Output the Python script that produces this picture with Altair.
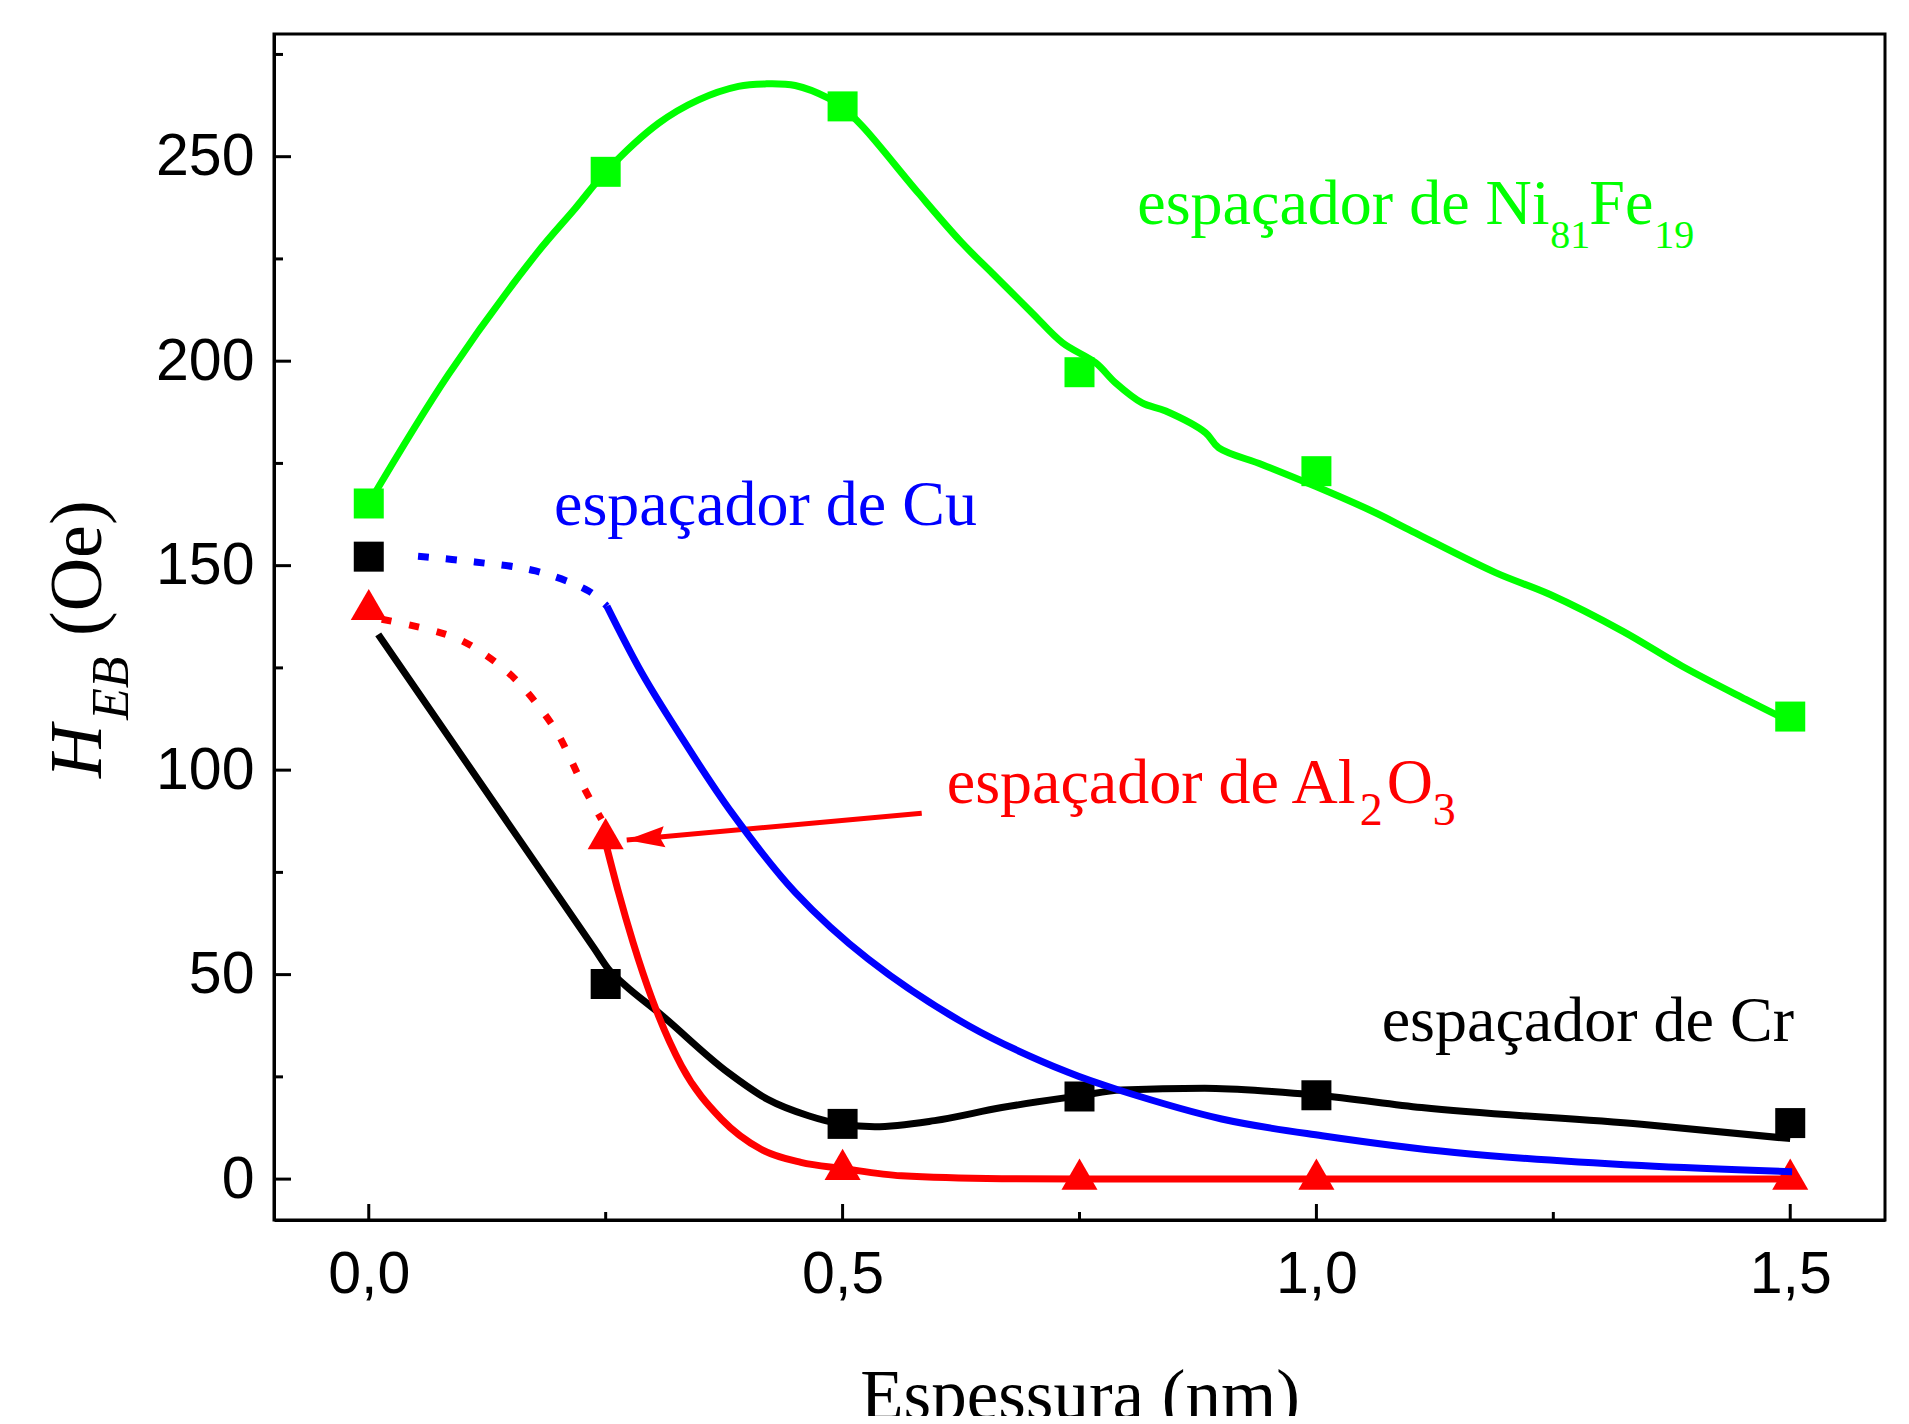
import altair as alt
import pandas as pd

# ---------------- data ----------------
thickness = [0.0, 0.25, 0.5, 0.75, 1.0, 1.5]
heb_nife = [165.2, 246.3, 262.3, 197.3, 173.1, 113.1]
heb_cr = [152.2, 47.7, 13.5, 20.2, 20.5, 13.7]
heb_al2o3 = [140.5, 84.5, 3.6, 1.2, 1.2, 1.2]

# guide curves
nife_curve_x = [0.0, 0.084, 0.176, 0.218, 0.25, 0.306, 0.348, 0.39, 0.418, 0.45, 0.485, 0.5, 0.521,
                0.58, 0.626, 0.658, 0.70, 0.732, 0.767, 0.788, 0.816, 0.841, 0.883, 0.897, 0.943,
                0.999, 1.059, 1.101, 1.189, 1.246, 1.323, 1.386, 1.453, 1.49]
nife_curve_y = [165.2, 196.7, 226.0, 237.4, 246.3, 258.2, 263.9, 267.2, 267.8, 267.4, 264.3, 262.0, 257.4,
                241.1, 228.9, 221.5, 211.8, 204.5, 199.6, 194.7, 189.8, 187.8, 182.5, 178.8, 174.7,
                169.4, 163.3, 158.4, 148.3, 143.0, 134.0, 125.4, 117.3, 113.0]

cu_dot_x = [0.052, 0.112, 0.176, 0.232, 0.2513]
cu_dot_y = [152.3, 150.9, 148.7, 143.8, 140.1]
cu_solid_x = [0.2513, 0.288, 0.327, 0.383, 0.45, 0.527, 0.633, 0.738, 0.794, 0.900, 1.006,
              1.146, 1.343, 1.502]
cu_solid_y = [140.1, 123.8, 109.1, 89.6, 70.1, 53.8, 37.5, 26.1, 21.6, 14.7, 10.6,
              6.5, 3.3, 1.8]

al_dot_x = [0.0137, 0.063, 0.095, 0.125, 0.153, 0.179, 0.199, 0.214, 0.228, 0.2455]
al_dot_y = [136.9, 134.4, 132.0, 127.9, 122.6, 115.7, 109.1, 102.2, 95.3, 88.0]
al_solid_x = [0.2513, 0.2636, 0.279, 0.299, 0.330, 0.372, 0.414, 0.456, 0.5, 0.562, 0.668, 0.75, 1.0, 1.5]
al_solid_y = [81.0, 70.1, 57.8, 44.0, 27.7, 14.7, 7.3, 4.1, 2.6, 0.8, 0.1, 0.0, 0.0, 0.0]

cr_curve_x = [0.01, 0.1827, 0.238, 0.253, 0.27, 0.306, 0.379, 0.421, 0.464, 0.5, 0.534, 0.597, 0.668, 0.751,
              0.794, 0.882, 0.953, 1.001, 1.111, 1.343, 1.5]
cr_curve_y = [133.2, 75.0, 56.4, 51.3, 47.5, 40.7, 26.1, 19.5, 15.5, 13.4, 12.8, 14.3, 17.5, 20.4,
              21.8, 22.2, 21.4, 20.5, 17.5, 13.4, 9.9]

x_ticks_major = [0.0, 0.5, 1.0, 1.5]
x_ticks_minor = [0.25, 0.75, 1.25]
y_ticks_major = [0, 50, 100, 150, 200, 250]
y_ticks_minor = [25, 75, 125, 175, 225, 275]

# annotation arrow (data coordinates): tail, tip
arrow_x = [0.5835, 0.2722]
arrow_y = [89.45, 82.9]

GREEN = "#00FF00"
BLUE = "#0000FF"
RED = "#FF0000"
BLACK = "#000000"

W, H = 1611, 1186
X_SCALE = alt.Scale(domain=[-0.1, 1.6], nice=False, zero=False)
Y_SCALE = alt.Scale(domain=[-10, 280], nice=False, zero=False)

x_axis = alt.Axis(
    values=x_ticks_major,
    labelExpr="replace(format(datum.value, '.1f'), '.', ',')",
    ticks=False, tickSize=0, grid=False,
    domainColor=BLACK, domainWidth=3,
    labelFont="Liberation Sans", labelFontSize=59, labelColor=BLACK, labelPadding=25,
    title="Espessura (nm)", titleFont="Liberation Serif", titleFontSize=71,
    titleFontWeight="normal", titleColor=BLACK, titleBaseline="alphabetic", titleY=198,
)
y_axis = alt.Axis(
    values=y_ticks_major, format="d",
    ticks=False, tickSize=0, grid=False,
    domainColor=BLACK, domainWidth=3,
    labelFont="Liberation Sans", labelFontSize=59, labelColor=BLACK, labelPadding=20,
    title=None,
)


def ex(field="x"):
    return alt.X(f"{field}:Q", scale=X_SCALE, axis=x_axis)


def ey(field="y"):
    return alt.Y(f"{field}:Q", scale=Y_SCALE, axis=y_axis)


def df(xs, ys):
    return pd.DataFrame({"x": xs, "y": ys})


def curve(xs, ys, color, dash=None, width=7, interp="catmull-rom"):
    kw = dict(color=color, strokeWidth=width, interpolate=interp, strokeCap="butt")
    if dash:
        kw["strokeDash"] = dash
    return alt.Chart(df(xs, ys)).mark_line(**kw).encode(x=ex(), y=ey(), order="x:Q")


def points(ys, color, shape, size):
    return alt.Chart(df(thickness, ys)).mark_point(
        shape=shape, filled=True, size=size, color=color, opacity=1
    ).encode(x=ex(), y=ey())


# inward ticks
ytm = alt.Chart(pd.DataFrame({"y": y_ticks_major})).mark_rule(color=BLACK, strokeWidth=3).encode(
    y=ey(), x=alt.value(0), x2=alt.value(17))
ytn = alt.Chart(pd.DataFrame({"y": y_ticks_minor})).mark_rule(color=BLACK, strokeWidth=3).encode(
    y=ey(), x=alt.value(0), x2=alt.value(9))
xtm = alt.Chart(pd.DataFrame({"x": x_ticks_major})).mark_rule(color=BLACK, strokeWidth=3).encode(
    x=ex(), y=alt.value(H), y2=alt.value(H - 16))
xtn = alt.Chart(pd.DataFrame({"x": x_ticks_minor})).mark_rule(color=BLACK, strokeWidth=3).encode(
    x=ex(), y=alt.value(H), y2=alt.value(H - 8))

cr_line = curve(cr_curve_x, cr_curve_y, BLACK, interp="monotone")
cr_pts = points(heb_cr, BLACK, "square", 900)

al_dot = curve(al_dot_x, al_dot_y, RED, dash=[10, 18])
al_line = curve(al_solid_x, al_solid_y, RED, interp="monotone")
al_pts = points(heb_al2o3, RED, "triangle-up", 1300)

arrow_line = alt.Chart(df(arrow_x, arrow_y)).mark_line(color=RED, strokeWidth=5).encode(
    x=ex(), y=ey(), order="x:Q")
arrow_head = alt.Chart(df(arrow_x[1:], arrow_y[1:])).mark_point(
    shape="M0,0L-0.55,2L0,1.75L0.55,2Z", filled=True, size=1444, color=RED, opacity=1, angle=265
).encode(x=ex(), y=ey())

cu_dot = curve(cu_dot_x, cu_dot_y, BLUE, dash=[11, 17])
cu_line = curve(cu_solid_x, cu_solid_y, BLUE)

nife_line = curve(nife_curve_x, nife_curve_y, GREEN, width=7)
nife_pts = points(heb_nife, GREEN, "square", 900)


def label(x, y, text, color, size=64, dx=0, dy=0):
    return alt.Chart(pd.DataFrame({"x": [x], "y": [y], "t": [text]})).mark_text(
        font="Liberation Serif", fontSize=size, color=color, align="left",
        baseline="alphabetic", dx=dx, dy=dy
    ).encode(x=ex(), y=ey(), text="t:N")


labels = [
    label(0.1955, 159.9, "espaçador de Cu", BLUE),
    label(0.811, 233.5, "espaçador de Ni", GREEN),
    label(0.811, 233.5, "81", GREEN, size=40, dx=413, dy=24),
    label(0.811, 233.5, "Fe", GREEN, dx=452),
    label(0.811, 233.5, "19", GREEN, size=40, dx=517, dy=24),
    label(0.6099, 91.9, "espaçador de Al", RED),
    label(0.6099, 91.9, "2", RED, size=46, dx=413, dy=22),
    label(0.6099, 91.9, "O", RED, dx=440),
    label(0.6099, 91.9, "3", RED, size=46, dx=486, dy=22),
    label(1.0689, 33.8, "espaçador de Cr", BLACK),
]

one = pd.DataFrame({"a": [0]})


def ytitle(text, x_px, y_px, size, style):
    return alt.Chart(one).mark_text(
        text=text, font="Liberation Serif", fontSize=size, fontStyle=style, color=BLACK,
        angle=270, align="left", baseline="alphabetic"
    ).encode(x=alt.value(x_px), y=alt.value(y_px))


ytitles = [
    ytitle("H", -173, 744, 74, "italic"),
    ytitle("EB", -146, 686, 52, "italic"),
    ytitle("(Oe)", -173, 602, 74, "normal"),
]

chart = alt.layer(
    ytm, ytn, xtm, xtn,
    cr_line, cr_pts,
    al_dot, al_line, al_pts,
    arrow_line, arrow_head,
    cu_dot, cu_line,
    nife_line, nife_pts,
    *labels, *ytitles,
).properties(
    width=W, height=H,
    autosize=alt.AutoSizeParams(type="none"),
    padding={"left": 266, "top": 26, "right": 16, "bottom": 196},
    background="white",
).configure_view(stroke=BLACK, strokeWidth=3)

chart.save("out.html", embed_options={"renderer": "svg", "actions": False})
